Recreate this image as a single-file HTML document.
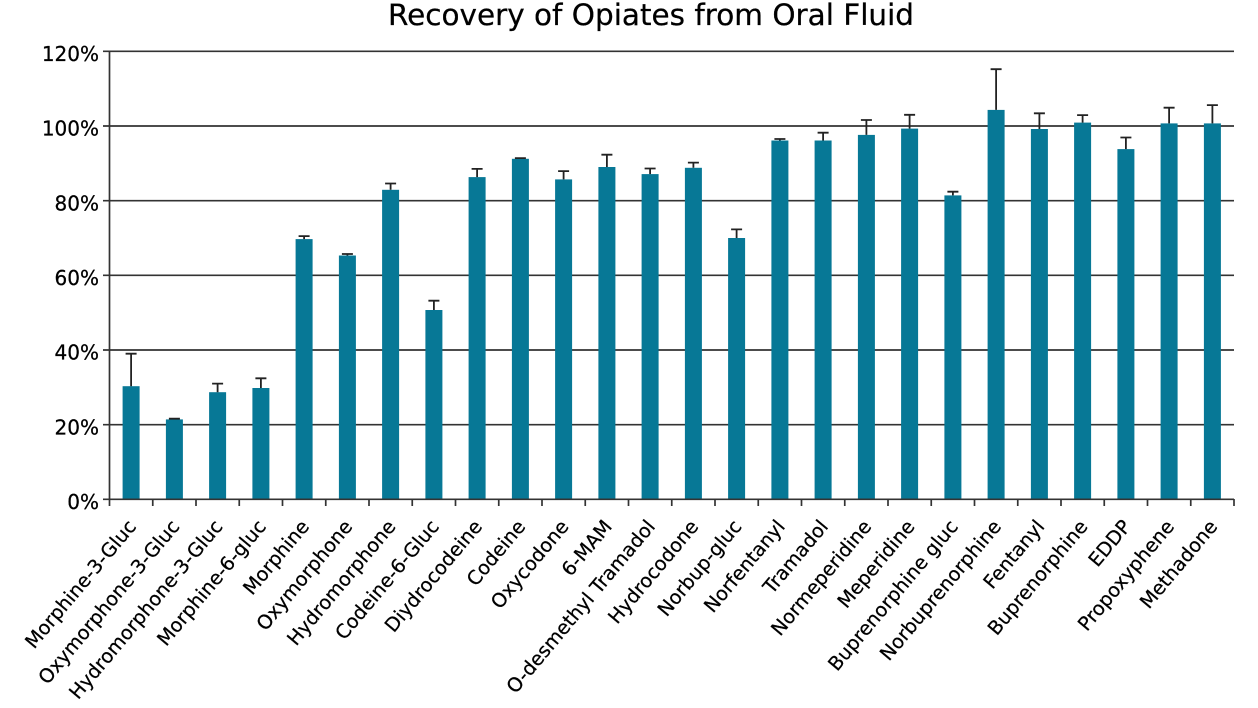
<!DOCTYPE html>
<html>
<head>
<meta charset="utf-8">
<style>
  html,body{margin:0;padding:0;background:#fff;}
  svg{display:block;}
  text{font-family:"DejaVu Sans","Liberation Sans",sans-serif;fill:#000;stroke:#000;stroke-width:0.25;}
</style>
</head>
<body>
<svg width="1258" height="708" viewBox="0 0 1258 708" xmlns="http://www.w3.org/2000/svg">
  <rect width="1258" height="708" fill="#fff"/>
  <!-- Title -->
  <text x="651" y="25" font-size="29" text-anchor="middle" textLength="526" lengthAdjust="spacingAndGlyphs">Recovery of Opiates from Oral Fluid</text>

  <!-- Gridlines -->
  <g stroke="#333" stroke-width="1.7">
    <line x1="103" y1="51.3" x2="1234" y2="51.3"/>
    <line x1="103" y1="126" x2="1234" y2="126"/>
    <line x1="103" y1="200.7" x2="1234" y2="200.7"/>
    <line x1="103" y1="275.3" x2="1234" y2="275.3"/>
    <line x1="103" y1="350" x2="1234" y2="350"/>
    <line x1="103" y1="424.7" x2="1234" y2="424.7"/>
  </g>

  <!-- Y labels -->
  <g font-size="20" text-anchor="end">
    <text x="99" y="60.9">120%</text>
    <text x="99" y="135.6">100%</text>
    <text x="99" y="210.3">80%</text>
    <text x="99" y="284.9">60%</text>
    <text x="99" y="359.6">40%</text>
    <text x="99" y="434.3">20%</text>
    <text x="99" y="508.9">0%</text>
  </g>

  <!-- Bars -->
  <g fill="#077896">
    <rect x="122.6" y="386.2" width="17" height="113.1"/>
    <rect x="165.9" y="419.4" width="17" height="79.9"/>
    <rect x="209.1" y="392.2" width="17" height="107.1"/>
    <rect x="252.4" y="388.0" width="17" height="111.3"/>
    <rect x="295.6" y="239.1" width="17" height="260.2"/>
    <rect x="338.9" y="255.5" width="17" height="243.8"/>
    <rect x="382.1" y="189.8" width="17" height="309.5"/>
    <rect x="425.4" y="310.0" width="17" height="189.3"/>
    <rect x="468.6" y="177.1" width="17" height="322.2"/>
    <rect x="511.9" y="158.8" width="17" height="340.5"/>
    <rect x="555.1" y="179.4" width="17" height="319.9"/>
    <rect x="598.4" y="167.0" width="17" height="332.3"/>
    <rect x="641.6" y="174.1" width="17" height="325.2"/>
    <rect x="684.9" y="167.8" width="17" height="331.5"/>
    <rect x="728.1" y="238.0" width="17" height="261.3"/>
    <rect x="771.4" y="140.5" width="17" height="358.8"/>
    <rect x="814.6" y="140.5" width="17" height="358.8"/>
    <rect x="857.9" y="134.9" width="17" height="364.4"/>
    <rect x="901.1" y="128.6" width="17" height="370.7"/>
    <rect x="944.4" y="195.4" width="17" height="303.9"/>
    <rect x="987.6" y="109.9" width="17" height="389.4"/>
    <rect x="1030.9" y="129.0" width="17" height="370.3"/>
    <rect x="1074.1" y="122.6" width="17" height="376.7"/>
    <rect x="1117.4" y="149.1" width="17" height="350.2"/>
    <rect x="1160.6" y="123.4" width="17" height="375.9"/>
    <rect x="1203.9" y="123.4" width="17" height="375.9"/>
  </g>

  <!-- Error bars -->
  <g stroke="#222" stroke-width="1.8" fill="none">
    <path d="M131.1 386.2V353.7M125.6 353.7H136.6"/>
    <path d="M174.4 419.4V418.7M168.9 418.7H179.9"/>
    <path d="M217.6 392.2V383.6M212.1 383.6H223.1"/>
    <path d="M260.9 388.0V378.3M255.4 378.3H266.4"/>
    <path d="M304.1 239.1V236.1M298.6 236.1H309.6"/>
    <path d="M347.4 255.5V254.0M341.9 254.0H352.9"/>
    <path d="M390.6 189.8V183.5M385.1 183.5H396.1"/>
    <path d="M433.9 310.0V300.7M428.4 300.7H439.4"/>
    <path d="M477.1 177.1V168.9M471.6 168.9H482.6"/>
    <path d="M520.4 158.8V158.1M514.9 158.1H525.9"/>
    <path d="M563.6 179.4V171.1M558.1 171.1H569.1"/>
    <path d="M606.9 167.0V154.7M601.4 154.7H612.4"/>
    <path d="M650.1 174.1V168.5M644.6 168.5H655.6"/>
    <path d="M693.4 167.8V162.6M687.9 162.6H698.9"/>
    <path d="M736.6 238.0V229.4M731.1 229.4H742.1"/>
    <path d="M779.9 140.5V139.0M774.4 139.0H785.4"/>
    <path d="M823.1 140.5V132.7M817.6 132.7H828.6"/>
    <path d="M866.4 134.9V120.0M860.9 120.0H871.9"/>
    <path d="M909.6 128.6V114.8M904.1 114.8H915.1"/>
    <path d="M952.9 195.4V191.7M947.4 191.7H958.4"/>
    <path d="M996.1 109.9V69.2M990.6 69.2H1001.6"/>
    <path d="M1039.4 129.0V113.3M1033.9 113.3H1044.9"/>
    <path d="M1082.6 122.6V115.1M1077.1 115.1H1088.1"/>
    <path d="M1125.9 149.1V137.5M1120.4 137.5H1131.4"/>
    <path d="M1169.1 123.4V107.7M1163.6 107.7H1174.6"/>
    <path d="M1212.4 123.4V105.1M1206.9 105.1H1217.9"/>
  </g>

  <!-- Axes -->
  <g stroke="#333" stroke-width="1.7">
    <line x1="109.5" y1="51.3" x2="109.5" y2="506"/>
    <line x1="103" y1="499.3" x2="1234" y2="499.3"/>
  </g>
  <g stroke="#333" stroke-width="1.7">
    <line x1="152.75" y1="499" x2="152.75" y2="506"/>
    <line x1="196" y1="499" x2="196" y2="506"/>
    <line x1="239.25" y1="499" x2="239.25" y2="506"/>
    <line x1="282.5" y1="499" x2="282.5" y2="506"/>
    <line x1="325.75" y1="499" x2="325.75" y2="506"/>
    <line x1="369" y1="499" x2="369" y2="506"/>
    <line x1="412.25" y1="499" x2="412.25" y2="506"/>
    <line x1="455.5" y1="499" x2="455.5" y2="506"/>
    <line x1="498.75" y1="499" x2="498.75" y2="506"/>
    <line x1="542" y1="499" x2="542" y2="506"/>
    <line x1="585.25" y1="499" x2="585.25" y2="506"/>
    <line x1="628.5" y1="499" x2="628.5" y2="506"/>
    <line x1="671.75" y1="499" x2="671.75" y2="506"/>
    <line x1="715" y1="499" x2="715" y2="506"/>
    <line x1="758.25" y1="499" x2="758.25" y2="506"/>
    <line x1="801.5" y1="499" x2="801.5" y2="506"/>
    <line x1="844.75" y1="499" x2="844.75" y2="506"/>
    <line x1="888" y1="499" x2="888" y2="506"/>
    <line x1="931.25" y1="499" x2="931.25" y2="506"/>
    <line x1="974.5" y1="499" x2="974.5" y2="506"/>
    <line x1="1017.75" y1="499" x2="1017.75" y2="506"/>
    <line x1="1061" y1="499" x2="1061" y2="506"/>
    <line x1="1104.25" y1="499" x2="1104.25" y2="506"/>
    <line x1="1147.5" y1="499" x2="1147.5" y2="506"/>
    <line x1="1190.75" y1="499" x2="1190.75" y2="506"/>
    <line x1="1234" y1="499" x2="1234" y2="506"/>
  </g>

  <!-- X labels -->
  <g font-size="19.3" text-anchor="end">
    <text transform="translate(137.1,527) rotate(-50)">Morphine-3-Gluc</text>
    <text transform="translate(180.4,527) rotate(-50)">Oxymorphone-3-Gluc</text>
    <text transform="translate(223.6,527) rotate(-50)">Hydromorphone-3-Gluc</text>
    <text transform="translate(266.9,527) rotate(-50)">Morphine-6-gluc</text>
    <text transform="translate(310.1,527) rotate(-50)">Morphine</text>
    <text transform="translate(353.4,527) rotate(-50)">Oxymorphone</text>
    <text transform="translate(396.6,527) rotate(-50)">Hydromorphone</text>
    <text transform="translate(439.9,527) rotate(-50)">Codeine-6-Gluc</text>
    <text transform="translate(483.1,527) rotate(-50)">Diydrocodeine</text>
    <text transform="translate(526.4,527) rotate(-50)">Codeine</text>
    <text transform="translate(569.6,527) rotate(-50)">Oxycodone</text>
    <text transform="translate(612.9,527) rotate(-50)">6-MAM</text>
    <text transform="translate(656.1,527) rotate(-50)">O-desmethyl Tramadol</text>
    <text transform="translate(699.4,527) rotate(-50)">Hydrocodone</text>
    <text transform="translate(742.6,527) rotate(-50)">Norbup-gluc</text>
    <text transform="translate(785.9,527) rotate(-50)">Norfentanyl</text>
    <text transform="translate(829.1,527) rotate(-50)">Tramadol</text>
    <text transform="translate(872.4,527) rotate(-50)">Normeperidine</text>
    <text transform="translate(915.6,527) rotate(-50)">Meperidine</text>
    <text transform="translate(958.9,527) rotate(-50)">Buprenorphine gluc</text>
    <text transform="translate(1002.1,527) rotate(-50)">Norbuprenorphine</text>
    <text transform="translate(1045.4,527) rotate(-50)">Fentanyl</text>
    <text transform="translate(1088.6,527) rotate(-50)">Buprenorphine</text>
    <text transform="translate(1131.9,527) rotate(-50)">EDDP</text>
    <text transform="translate(1175.1,527) rotate(-50)">Propoxyphene</text>
    <text transform="translate(1218.4,527) rotate(-50)">Methadone</text>
  </g>
</svg>
</body>
</html>
